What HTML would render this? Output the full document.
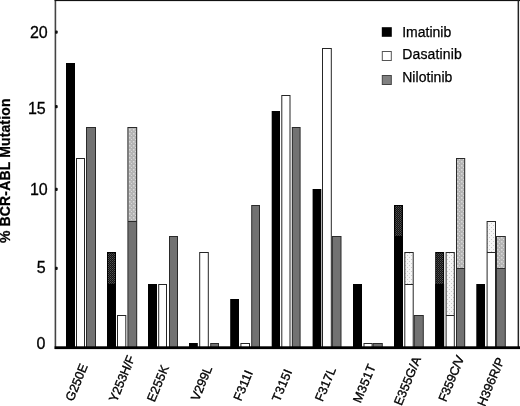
<!DOCTYPE html>
<html><head><meta charset="utf-8"><title>BCR-ABL Mutation</title>
<style>
html,body{margin:0;padding:0;background:#fff;}
body{width:520px;height:406px;overflow:hidden;}
svg{display:block;font-family:"Liberation Sans",sans-serif;}
</style></head><body>
<svg width="520" height="406" viewBox="0 0 520 406">
<defs>
<pattern id="pi" width="2" height="2" patternUnits="userSpaceOnUse"><rect width="2" height="2" fill="#111"/><rect width="1" height="1" fill="#505050"/><rect x="1" y="1" width="1" height="1" fill="#3a3a3a"/></pattern>
<pattern id="pd" width="4" height="4" patternUnits="userSpaceOnUse"><rect width="4" height="4" fill="#f6f6f6"/><rect x="1" y="1" width="1" height="1" fill="#ccc"/><rect x="3" y="3" width="1" height="1" fill="#ccc"/></pattern>
<pattern id="pn" width="4" height="4" patternUnits="userSpaceOnUse"><rect width="4" height="4" fill="#b4b4b4"/><rect x="1" y="1" width="1.5" height="1.5" fill="#d8d8d8"/><rect x="3" y="3" width="1.5" height="1.5" fill="#d8d8d8"/></pattern>
</defs>
<rect width="520" height="406" fill="#fff"/>

<rect x="66.00" y="63.00" width="9.00" height="284.00" fill="#000"/>
<rect x="76.00" y="158.00" width="9.00" height="189.00" fill="#262626"/>
<rect x="77.00" y="159.00" width="7.00" height="188.00" fill="#fff"/>
<rect x="86.00" y="127.00" width="10.00" height="220.00" fill="#2a2a2a"/>
<rect x="87.00" y="128.00" width="8.00" height="219.00" fill="#727272"/>
<rect x="107.00" y="252.00" width="9.00" height="95.00" fill="#000"/>
<rect x="107.00" y="284.00" width="9.00" height="63.00" fill="#000"/>
<rect x="108.00" y="253.00" width="7.00" height="31.00" fill="url(#pi)"/>
<rect x="117.00" y="315.00" width="9.30" height="32.00" fill="#262626"/>
<rect x="118.00" y="316.00" width="7.30" height="31.00" fill="#fff"/>
<rect x="127.40" y="127.00" width="9.80" height="220.00" fill="#2a2a2a"/>
<rect x="128.40" y="222.00" width="7.80" height="125.00" fill="#727272"/>
<rect x="128.40" y="128.00" width="7.80" height="93.00" fill="url(#pn)"/>
<rect x="148.00" y="284.00" width="9.00" height="63.00" fill="#000"/>
<rect x="158.20" y="284.00" width="8.80" height="63.00" fill="#262626"/>
<rect x="159.20" y="285.00" width="6.80" height="62.00" fill="#fff"/>
<rect x="169.00" y="236.00" width="9.00" height="111.00" fill="#2a2a2a"/>
<rect x="170.00" y="237.00" width="7.00" height="110.00" fill="#727272"/>
<rect x="189.00" y="343.00" width="8.80" height="4.00" fill="#000"/>
<rect x="199.20" y="252.00" width="9.60" height="95.00" fill="#262626"/>
<rect x="200.20" y="253.00" width="7.60" height="94.00" fill="#fff"/>
<rect x="210.20" y="343.00" width="8.80" height="4.00" fill="#2a2a2a"/>
<rect x="211.20" y="344.00" width="6.80" height="3.00" fill="#727272"/>
<rect x="230.20" y="299.00" width="8.80" height="48.00" fill="#000"/>
<rect x="240.40" y="343.00" width="9.60" height="4.00" fill="#262626"/>
<rect x="241.40" y="344.00" width="7.60" height="3.00" fill="#fff"/>
<rect x="251.20" y="205.00" width="8.80" height="142.00" fill="#2a2a2a"/>
<rect x="252.20" y="206.00" width="6.80" height="141.00" fill="#727272"/>
<rect x="271.70" y="111.00" width="8.30" height="236.00" fill="#000"/>
<rect x="281.30" y="95.00" width="9.20" height="252.00" fill="#262626"/>
<rect x="282.30" y="96.00" width="7.20" height="251.00" fill="#fff"/>
<rect x="291.80" y="127.00" width="8.80" height="220.00" fill="#2a2a2a"/>
<rect x="292.80" y="128.00" width="6.80" height="219.00" fill="#727272"/>
<rect x="312.60" y="189.00" width="8.70" height="158.00" fill="#000"/>
<rect x="322.00" y="48.00" width="9.80" height="299.00" fill="#262626"/>
<rect x="323.00" y="49.00" width="7.80" height="298.00" fill="#fff"/>
<rect x="331.80" y="236.00" width="9.70" height="111.00" fill="#2a2a2a"/>
<rect x="332.80" y="237.00" width="7.70" height="110.00" fill="#727272"/>
<rect x="353.00" y="284.00" width="9.00" height="63.00" fill="#000"/>
<rect x="363.50" y="343.00" width="9.10" height="4.00" fill="#262626"/>
<rect x="364.50" y="344.00" width="7.10" height="3.00" fill="#fff"/>
<rect x="372.60" y="343.00" width="10.20" height="4.00" fill="#2a2a2a"/>
<rect x="373.60" y="344.00" width="8.20" height="3.00" fill="#727272"/>
<rect x="394.00" y="205.00" width="9.00" height="142.00" fill="#000"/>
<rect x="394.00" y="236.00" width="9.00" height="111.00" fill="#000"/>
<rect x="395.00" y="206.00" width="7.00" height="30.00" fill="url(#pi)"/>
<rect x="404.30" y="252.00" width="9.40" height="95.00" fill="#262626"/>
<rect x="405.30" y="285.00" width="7.40" height="62.00" fill="#fff"/>
<rect x="405.30" y="253.00" width="7.40" height="31.00" fill="url(#pd)"/>
<rect x="413.70" y="315.00" width="10.10" height="32.00" fill="#2a2a2a"/>
<rect x="414.70" y="316.00" width="8.10" height="31.00" fill="#727272"/>
<rect x="435.20" y="252.00" width="8.90" height="95.00" fill="#000"/>
<rect x="435.20" y="284.00" width="8.90" height="63.00" fill="#000"/>
<rect x="436.20" y="253.00" width="6.90" height="31.00" fill="url(#pi)"/>
<rect x="445.60" y="252.00" width="9.20" height="95.00" fill="#262626"/>
<rect x="446.60" y="316.00" width="7.20" height="31.00" fill="#fff"/>
<rect x="446.60" y="253.00" width="7.20" height="62.00" fill="url(#pd)"/>
<rect x="456.00" y="158.00" width="9.20" height="189.00" fill="#2a2a2a"/>
<rect x="457.00" y="269.00" width="7.20" height="78.00" fill="#727272"/>
<rect x="457.00" y="159.00" width="7.20" height="109.00" fill="url(#pn)"/>
<rect x="476.30" y="284.00" width="8.70" height="63.00" fill="#000"/>
<rect x="486.60" y="221.00" width="9.40" height="126.00" fill="#262626"/>
<rect x="487.60" y="253.00" width="7.40" height="94.00" fill="#fff"/>
<rect x="487.60" y="222.00" width="7.40" height="30.00" fill="url(#pd)"/>
<rect x="496.00" y="236.00" width="9.80" height="111.00" fill="#2a2a2a"/>
<rect x="497.00" y="269.00" width="7.80" height="78.00" fill="#727272"/>
<rect x="497.00" y="237.00" width="7.80" height="31.00" fill="url(#pn)"/>
<rect x="54.6" y="0" width="1.6" height="349" fill="#444"/>
<rect x="54.6" y="0" width="465.4" height="1.1" fill="#111"/>
<rect x="517.6" y="0" width="1.5" height="349" fill="#222"/>
<rect x="54.6" y="346.3" width="465.4" height="2.8" fill="#000"/>
<rect x="55" y="30.6" width="2.7" height="3.2" rx="1" fill="#111"/>
<rect x="55" y="105.0" width="2.7" height="3.2" rx="1" fill="#111"/>
<rect x="55" y="187.7" width="2.7" height="3.2" rx="1" fill="#111"/>
<rect x="55" y="266.7" width="2.7" height="3.2" rx="1" fill="#111"/>
<text x="47.7" y="37.7" font-size="16" text-anchor="end" fill="#000" stroke="#000" stroke-width="0.3">20</text>
<text x="45.7" y="114.3" font-size="16" text-anchor="end" fill="#000" stroke="#000" stroke-width="0.3">15</text>
<text x="47.7" y="194.7" font-size="16" text-anchor="end" fill="#000" stroke="#000" stroke-width="0.3">10</text>
<text x="45.6" y="273.1" font-size="16" text-anchor="end" fill="#000" stroke="#000" stroke-width="0.3">5</text>
<text x="45.3" y="348.8" font-size="16" text-anchor="end" fill="#000" stroke="#000" stroke-width="0.3">0</text>
<text transform="translate(10.2,243) rotate(-90)" font-size="14" font-weight="bold" letter-spacing="0.14" fill="#000" stroke="#000" stroke-width="0.25">% BCR-ABL Mutation</text>
<rect x="381.8" y="27.2" width="10" height="9.6" fill="#000"/>
<rect x="382.3" y="51.5" width="9" height="9" fill="#fff" stroke="#555" stroke-width="1"/>
<rect x="382.3" y="75.5" width="9" height="9" fill="#808080" stroke="#444" stroke-width="1"/>
<text x="402.2" y="36.7" font-size="14" fill="#000" stroke="#000" stroke-width="0.25">Imatinib</text>
<text x="402.2" y="58.7" font-size="14" letter-spacing="0.15" fill="#000" stroke="#000" stroke-width="0.25">Dasatinib</text>
<text x="402.2" y="82" font-size="14" letter-spacing="0.05" fill="#000" stroke="#000" stroke-width="0.25">Nilotinib</text>
<text transform="translate(73.0,402.1) rotate(-67.5)" font-size="12.5" letter-spacing="0" fill="#000" stroke="#000" stroke-width="0.35">G250E</text>
<text transform="translate(116.5,402.8) rotate(-67.5)" font-size="12.5" letter-spacing="-0.1" fill="#000" stroke="#000" stroke-width="0.35">Y253H/F</text>
<text transform="translate(154.5,402.8) rotate(-67.5)" font-size="12.5" letter-spacing="0.2" fill="#000" stroke="#000" stroke-width="0.35">E255K</text>
<text transform="translate(198.5,401.6) rotate(-67.5)" font-size="12.5" letter-spacing="0" fill="#000" stroke="#000" stroke-width="0.35">V299L</text>
<text transform="translate(241.0,401.8) rotate(-67.5)" font-size="12.5" letter-spacing="0.15" fill="#000" stroke="#000" stroke-width="0.35">F311I</text>
<text transform="translate(279.5,402.40000000000003) rotate(-67.5)" font-size="12.5" letter-spacing="0.35" fill="#000" stroke="#000" stroke-width="0.35">T315I</text>
<text transform="translate(322.5,402.3) rotate(-67.5)" font-size="12.5" letter-spacing="0" fill="#000" stroke="#000" stroke-width="0.35">F317L</text>
<text transform="translate(360.5,403.8) rotate(-67.5)" font-size="12.5" letter-spacing="0.4" fill="#000" stroke="#000" stroke-width="0.35">M351T</text>
<text transform="translate(401.5,406.3) rotate(-67.5)" font-size="12.5" letter-spacing="0.1" fill="#000" stroke="#000" stroke-width="0.35">E355G/A</text>
<text transform="translate(446.0,402.6) rotate(-67.5)" font-size="12.5" letter-spacing="-0.15" fill="#000" stroke="#000" stroke-width="0.35">F359C/V</text>
<text transform="translate(484.9,407.3) rotate(-67.5)" font-size="12.5" letter-spacing="0.12" fill="#000" stroke="#000" stroke-width="0.35">H396R/P</text>
</svg></body></html>
